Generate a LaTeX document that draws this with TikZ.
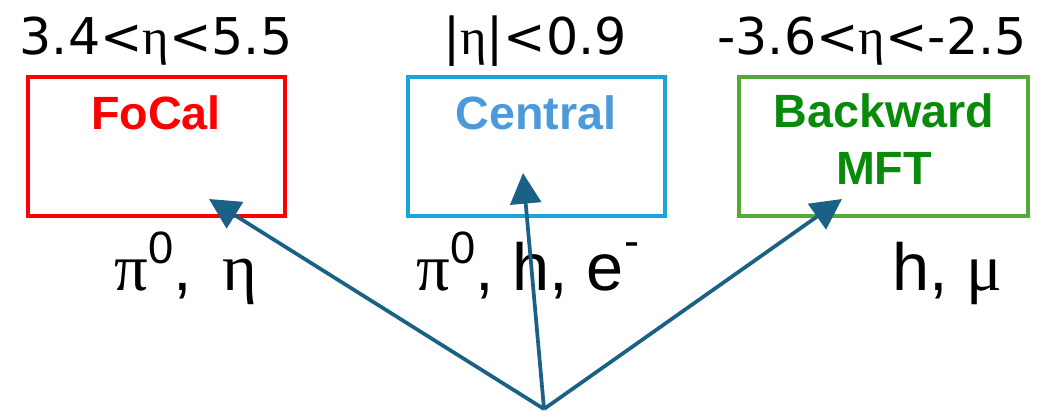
\documentclass[tikz,border=0pt]{standalone}
\usepackage{fontspec}
\usepackage{tikz}
\usetikzlibrary{arrows.meta}
\setmainfont{Liberation Sans}
\newfontfamily\rangefont{DejaVu Sans}
\newfontfamily\greekfont{Liberation Serif}
\definecolor{focalred}{HTML}{FF0000}
\definecolor{centralline}{HTML}{1BA3DC}
\definecolor{centraltext}{HTML}{4D9ADA}
\definecolor{backline}{HTML}{54A93A}
\definecolor{backtext}{HTML}{0A8A0A}
\definecolor{rayblue}{HTML}{1B6185}
\newcommand{\eeta}{{\greekfont η}}

\begin{document}
\begin{tikzpicture}[x=0.75pt,y=-0.75pt,
  detbox/.style={draw,line width=2.5pt,minimum width=192.75pt,minimum height=104.25pt,inner sep=0pt},
  detname/.style={font=\fontsize{35}{43}\selectfont\bfseries,align=center,inner sep=0pt},
  rangelabel/.style={font=\rangefont\fontsize{38}{40}\selectfont,inner sep=0pt,anchor=base},
  partlabel/.style={font=\fontsize{50}{52}\selectfont,inner sep=0pt,anchor=base},
  ray/.style={draw=rayblue,line width=2.8pt,-{Triangle[length=23pt,width=23pt]}}]
\useasboundingbox (0,0) rectangle (1038,411);
% detectors
\node[detbox,draw=focalred] (focal) at (156.5,146.5) {};
\node[detbox,draw=centralline] (central) at (536.5,146.5) {};
\node[detbox,draw=backline,minimum width=216.75pt] (backward) at (883.5,146.5) {};
\node[detname,text=focalred] (focalname) at (156,113) {FoCal};
\node[detname,text=centraltext] (centralname) at (536,113) {Central};
\node[detname,text=backtext] (backname) at (884,139) {Backward\\MFT};
% acceptance
\node[rangelabel] (focalrange) at (156,54) {3.4<\eeta<5.5};
\node[rangelabel] (centralrange) at (535,54) {|\eeta|<0.9};
\node[rangelabel] (backrange) at (872,54) {-3.6<\eeta<-2.5};
% probes
\node[partlabel] (focalpart) at (186,290) {{\greekfont π}\raisebox{0.4em}{\fontsize{34}{36}\selectfont 0},\hspace{0.45em}\eeta};
\node[partlabel] (centralpart) at (528,290) {{\greekfont π}\raisebox{0.4em}{\fontsize{34}{36}\selectfont 0}, h, e\raisebox{0.5em}{\fontsize{34}{36}\selectfont -}};
\node[partlabel] (backpart) at (947,290) {h, {\greekfont μ}};
% tracks
\coordinate (vertex) at (544,409);
\coordinate (focalhit) at (209,199);
\coordinate (centralhit) at (523,173);
\coordinate (backhit) at (842,199);
\draw[ray] (vertex) -- (focalhit);
\draw[ray] (vertex) -- (centralhit);
\draw[ray] (vertex) -- (backhit);
\end{tikzpicture}
\end{document}
